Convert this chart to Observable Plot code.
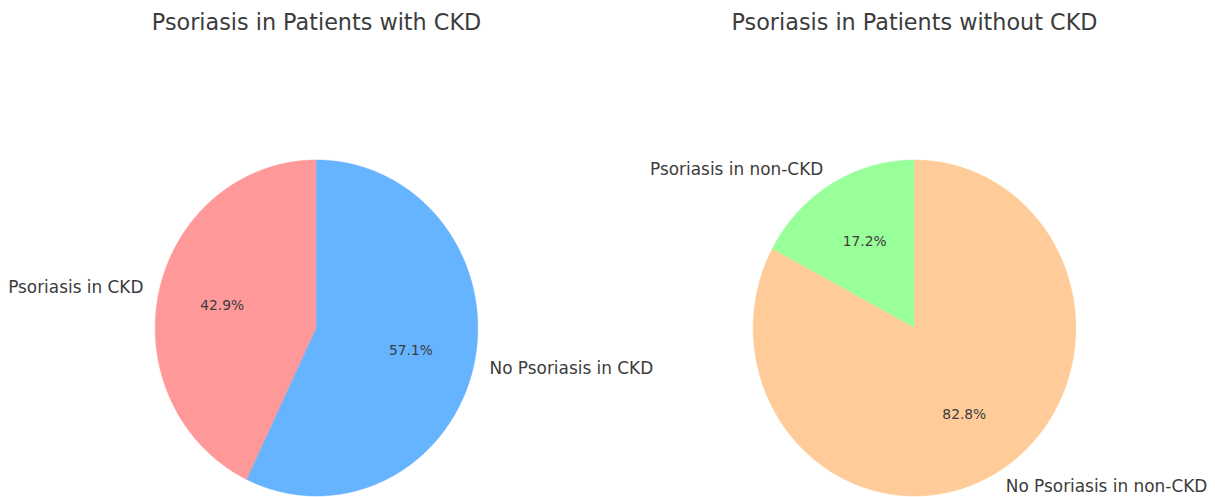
<!DOCTYPE html>
<html><head><meta charset="utf-8">
<script src="https://cdn.jsdelivr.net/npm/d3@7"></script>
<script src="https://cdn.jsdelivr.net/npm/@observablehq/plot@0.6"></script>
<style>body{margin:0;background:#fff;} #chart svg{display:block;}</style>
</head><body><div id="chart"></div>
<script>
// ---- data ----
const titles = ["Psoriasis in Patients with CKD", "Psoriasis in Patients without CKD"];
const ckdLabels = ["Psoriasis in CKD", "No Psoriasis in CKD"];
const ckdValues = [42.9, 57.1];
const nonCkdLabels = ["Psoriasis in non-CKD", "No Psoriasis in non-CKD"];
const nonCkdValues = [17.2, 82.8];
const sliceColors = ["#ff9999", "#66b3ff", "#99ff99", "#ffcc99"];

// ---- layout ----
const W = 1215, H = 497;
const rxPx = 161.3, ryPx = 168;          // pixels per radius unit
const cxPx = [316, 914], cyPx = 327.5;   // pie centres in pixels
const centers = cxPx.map(p => (p - cxPx[0]) / rxPx); // in radius units
const titleY = (cyPx - 22) / ryPx;

const pies = [
  {title: titles[0], labels: ckdLabels, values: ckdValues, cx: centers[0]},
  {title: titles[1], labels: nonCkdLabels, values: nonCkdValues, cx: centers[1]}
];

const polys = [], pct = [], lbls = [];
pies.forEach(p => {
  const total = d3.sum(p.values);
  let start = 90; // degrees, counter-clockwise
  p.values.forEach((v, i) => {
    const sweep = v / total * 360;
    const end = start + sweep;
    const name = p.labels[i];
    polys.push({name, x: p.cx, y: 0});
    const n = Math.max(2, Math.ceil(sweep / 0.5));
    for (let k = 0; k <= n; k++) {
      const a = (start + sweep * k / n) * Math.PI / 180;
      polys.push({name, x: p.cx + Math.cos(a), y: Math.sin(a)});
    }
    polys.push({name, x: p.cx, y: 0});
    const mid = (start + end) / 2 * Math.PI / 180;
    pct.push({x: p.cx + 0.6 * Math.cos(mid), y: 0.6 * Math.sin(mid), text: v.toFixed(1) + "%"});
    lbls.push({x: p.cx + 1.1 * Math.cos(mid), y: 1.1 * Math.sin(mid), text: name, right: Math.cos(mid) < 0});
    start = end;
  });
});

const allLabels = ckdLabels.concat(nonCkdLabels);
const ink = "#3c3c3c";

const chart = Plot.plot({
  width: W, height: H,
  margin: 0,
  x: {domain: [-cxPx[0] / rxPx, (W - cxPx[0]) / rxPx], axis: null},
  y: {domain: [-(H - cyPx) / ryPx, cyPx / ryPx], axis: null},
  color: {domain: allLabels, range: sliceColors},
  style: {fontFamily: "DejaVu Sans", background: "#fff", overflow: "visible"},
  marks: [
    Plot.line(polys, {x: "x", y: "y", z: "name", fill: "name", stroke: "name", strokeWidth: 0.5, curve: "linear"}),
    Plot.text(pct, {x: "x", y: "y", text: "text", fontSize: 13.8, fill: ink}),
    Plot.text(lbls.filter(d => d.right), {x: "x", y: "y", text: "text", fontSize: 16.9, fill: ink, textAnchor: "end"}),
    Plot.text(lbls.filter(d => !d.right), {x: "x", y: "y", text: "text", fontSize: 16.9, fill: ink, textAnchor: "start"}),
    Plot.text(pies, {x: "cx", y: () => titleY, text: "title", fontSize: 22.3, fill: ink})
  ]
});
document.getElementById("chart").appendChild(chart);
</script>
</body></html>
